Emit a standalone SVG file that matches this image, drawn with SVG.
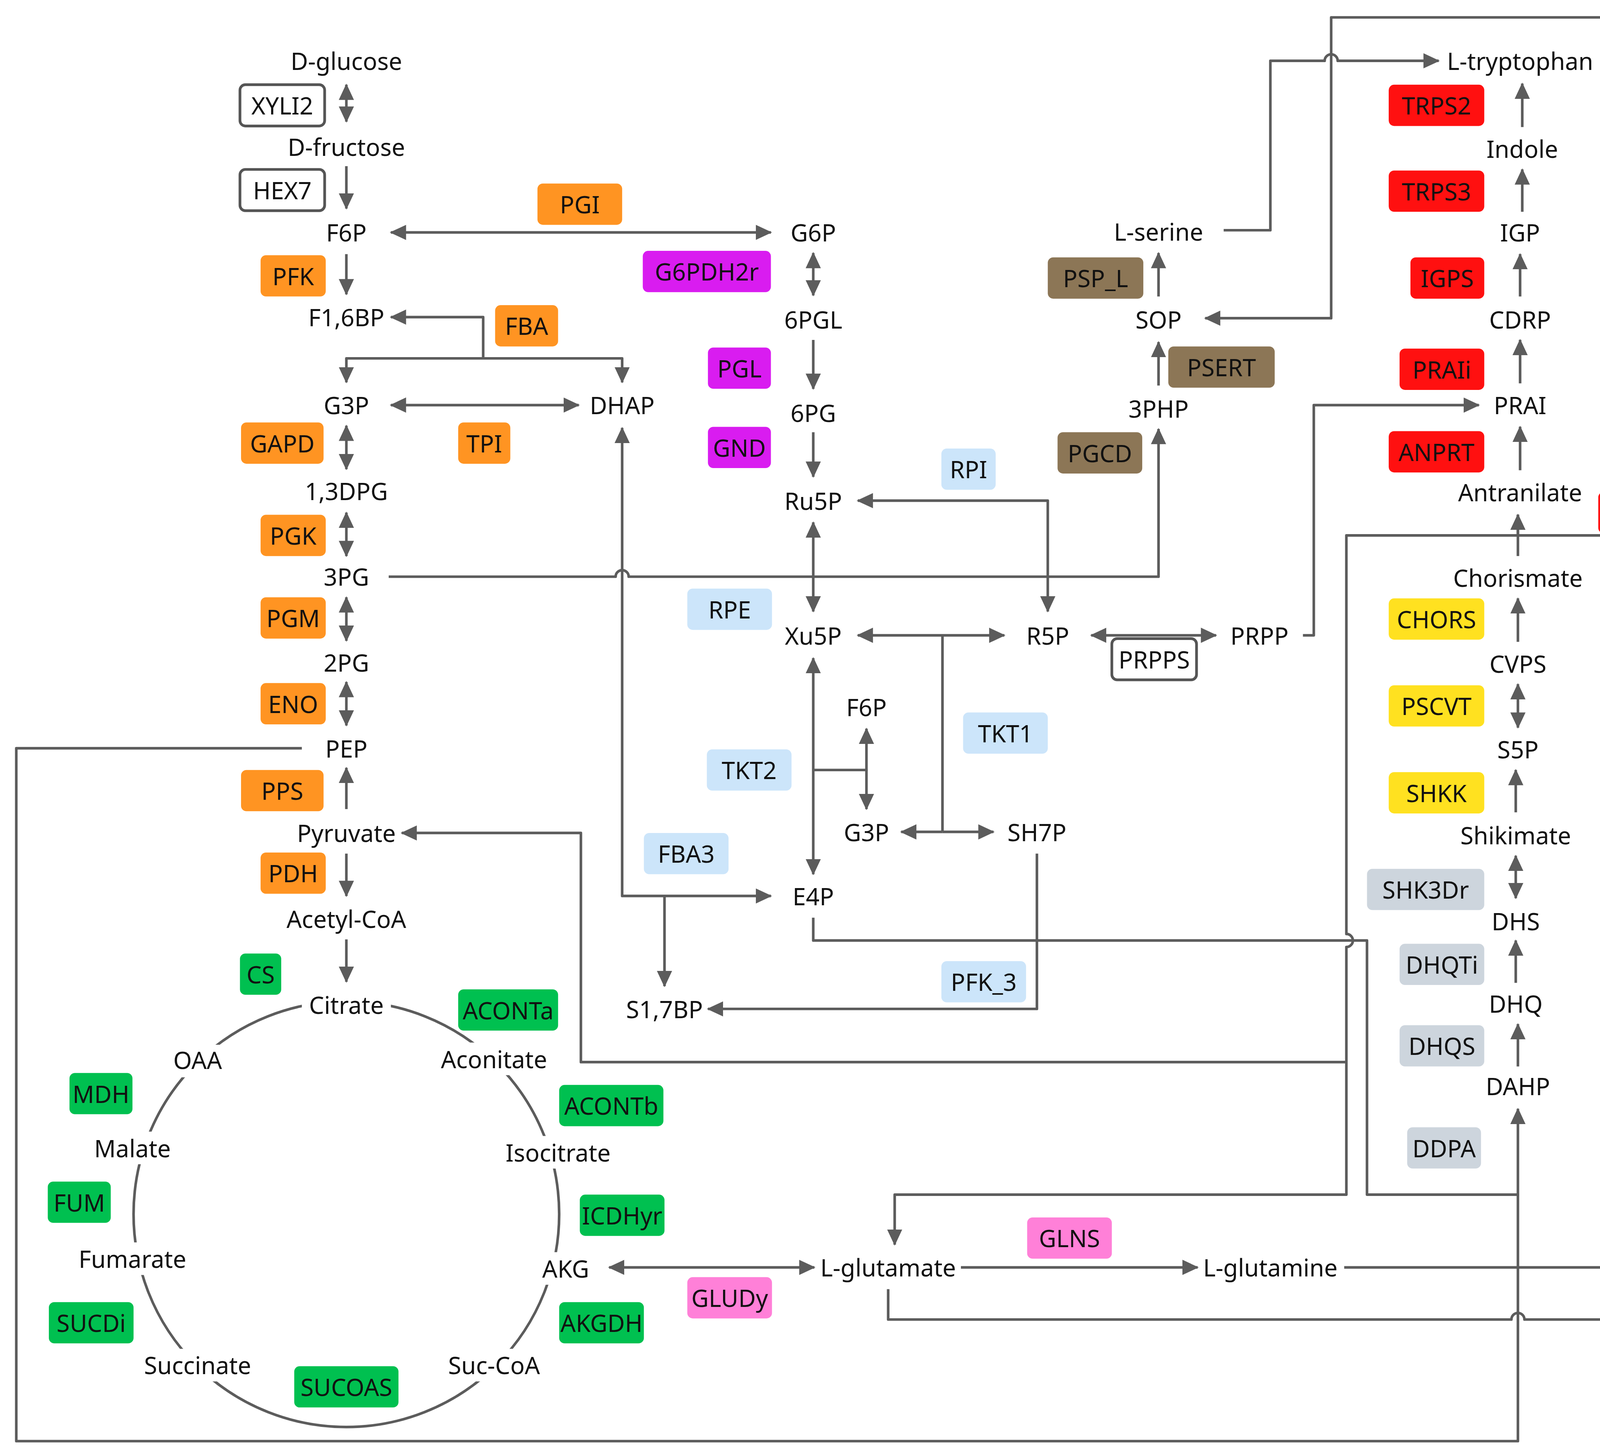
<svg xmlns="http://www.w3.org/2000/svg" width="4350" height="3724" viewBox="0 0 4350 3724">
<style>
.t{font-family:"Noto Sans","DejaVu Sans",sans-serif;font-size:22px;fill:#111;text-anchor:middle;dominant-baseline:central}
.c{fill:none;stroke:#5c5c5c;stroke-width:2.4;stroke-linejoin:round}
.e rect{rx:5}
.o{fill:#FF9422}.m{fill:#D91CF0}.b{fill:#CCE5FA}.w{fill:#fff;stroke:#555;stroke-width:2.5}.br{fill:#8C7656}.r{fill:#FF1010}.y{fill:#FFE120}.g{fill:#CDD5DD}.p{fill:#FF80D8}.gr{fill:#00C050}
</style>
<defs>
<marker id="a" markerWidth="16" markerHeight="16" refX="14" refY="8" orient="auto-start-reverse" markerUnits="userSpaceOnUse"><path d="M0,1L15,8L0,15z" fill="#5c5c5c"/></marker>
</defs>
<rect width="4350" height="3724" fill="#fff"/>
<g transform="scale(2.7796)">
<g id="connectors">
<circle cx="319" cy="1118" r="196" class="c"/>
<path class="c" marker-start="url(#a)" marker-end="url(#a)" d="M319,78V112"/>
<path class="c" marker-end="url(#a)" d="M319,153V192"/>
<path class="c" marker-start="url(#a)" marker-end="url(#a)" d="M360,214H710"/>
<path class="c" marker-end="url(#a)" d="M319,234V271"/>
<path class="c" marker-end="url(#a)" d="M445,330V292H360"/>
<path class="c" marker-end="url(#a)" d="M445,330H319V352"/>
<path class="c" marker-end="url(#a)" d="M445,330H573V352"/>
<path class="c" marker-start="url(#a)" marker-end="url(#a)" d="M360,373H533"/>
<path class="c" marker-start="url(#a)" marker-end="url(#a)" d="M319,392V432"/>
<path class="c" marker-start="url(#a)" marker-end="url(#a)" d="M319,472V512"/>
<path class="c" marker-start="url(#a)" marker-end="url(#a)" d="M319,550V590"/>
<path class="c" marker-start="url(#a)" marker-end="url(#a)" d="M319,628V668"/>
<path class="c" marker-end="url(#a)" d="M319,745V707"/>
<path class="c" marker-end="url(#a)" d="M319,786V825"/>
<path class="c" marker-end="url(#a)" d="M319,865V904"/>
<path class="c" marker-start="url(#a)" marker-end="url(#a)" d="M749,233V272"/>
<path class="c" marker-end="url(#a)" d="M749,313V358"/>
<path class="c" marker-end="url(#a)" d="M749,398V439"/>
<path class="c" marker-start="url(#a)" marker-end="url(#a)" d="M749,481V563"/>
<path class="c" marker-start="url(#a)" marker-end="url(#a)" d="M790,461H965V563"/>
<path class="c" marker-start="url(#a)" marker-end="url(#a)" d="M790,585H925"/>
<path class="c" d="M868,585V766"/>
<path class="c" marker-end="url(#a)" d="M868,766H915"/>
<path class="c" marker-end="url(#a)" d="M868,766H830"/>
<path class="c" marker-start="url(#a)" marker-end="url(#a)" d="M749,606V805"/>
<path class="c" marker-end="url(#a)" d="M749,709H798V671"/>
<path class="c" marker-end="url(#a)" d="M798,709V745"/>
<path class="c" marker-start="url(#a)" marker-end="url(#a)" d="M573,394V825H710"/>
<path class="c" marker-end="url(#a)" d="M612,825V908"/>
<path class="c" marker-end="url(#a)" d="M955,786V929H652"/>
<path class="c" marker-end="url(#a)" d="M358,531H567a6,6 0 0 1 12,0H1067V395"/>
<path class="c" marker-end="url(#a)" d="M1067,355V315"/>
<path class="c" marker-end="url(#a)" d="M1067,273V233"/>
<path class="c" marker-end="url(#a)" d="M1127,212H1170V56H1220a6,6 0 0 1 12,0H1325"/>
<path class="c" marker-end="url(#a)" d="M818,1187V1215H1392a6,6 0 0 1 12,0H1552V16H1226V293H1110"/>
<path class="c" marker-start="url(#a)" marker-end="url(#a)" d="M561,1167H750"/>
<path class="c" marker-end="url(#a)" d="M885,1167H1103"/>
<path class="c" marker-end="url(#a)" d="M1238,1167H1504V493H1398V474"/>
<path class="c" marker-end="url(#a)" d="M1398,512V474"/>
<path class="c" marker-end="url(#a)" d="M1398,493H1240V860a6,6 0 0 1 0,12V978H535V767H370"/>
<path class="c" marker-end="url(#a)" d="M1240,978V1100H824V1146"/>
<path class="c" marker-end="url(#a)" d="M749,845V866H1259V1100H1398V1021"/>
<path class="c" d="M278,689H15V1327H1398V1100"/>
<path class="c" marker-end="url(#a)" d="M1200,585H1210V373H1362"/>
<path class="c" marker-start="url(#a)" marker-end="url(#a)" d="M1005,585H1120"/>
<path class="c" marker-end="url(#a)" d="M1400,433V393"/>
<path class="c" marker-end="url(#a)" d="M1400,353V313"/>
<path class="c" marker-end="url(#a)" d="M1400,273V234"/>
<path class="c" marker-end="url(#a)" d="M1402,195V156"/>
<path class="c" marker-end="url(#a)" d="M1402,117V77"/>
<path class="c" marker-end="url(#a)" d="M1398,591V551"/>
<path class="c" marker-start="url(#a)" marker-end="url(#a)" d="M1398,630V670"/>
<path class="c" marker-end="url(#a)" d="M1396,748V709"/>
<path class="c" marker-start="url(#a)" marker-end="url(#a)" d="M1396,788V827"/>
<path class="c" marker-end="url(#a)" d="M1396,905V866"/>
<path class="c" marker-end="url(#a)" d="M1398,982V943"/>
</g>
<g id="metabolites">
<g fill="#fff"><rect x="278" y="910" width="82" height="30"/><rect x="152" y="962" width="60" height="30"/><rect x="400" y="960" width="112" height="30"/><rect x="80" y="1042" width="84" height="30"/><rect x="460" y="1046" width="108" height="30"/><rect x="68" y="1144" width="108" height="30"/><rect x="495" y="1153" width="52" height="30"/><rect x="125" y="1242" width="114" height="30"/><rect x="408" y="1242" width="96" height="30"/></g>
<text class="t" x="319" y="56">D-glucose</text><text class="t" x="319" y="135">D-fructose</text><text class="t" x="319" y="214">F6P</text><text class="t" x="319" y="292">F1,6BP</text><text class="t" x="319" y="373">G3P</text><text class="t" x="319" y="452">1,3DPG</text><text class="t" x="319" y="531">3PG</text><text class="t" x="319" y="610">2PG</text><text class="t" x="319" y="689">PEP</text><text class="t" x="319" y="767">Pyruvate</text><text class="t" x="319" y="846">Acetyl-CoA</text><text class="t" x="319" y="925">Citrate</text>
<text class="t" x="573" y="373">DHAP</text><text class="t" x="749" y="214">G6P</text><text class="t" x="749" y="294">6PGL</text><text class="t" x="749" y="380">6PG</text><text class="t" x="749" y="461">Ru5P</text><text class="t" x="749" y="585">Xu5P</text><text class="t" x="749" y="825">E4P</text><text class="t" x="798" y="651">F6P</text><text class="t" x="798" y="766">G3P</text><text class="t" x="955" y="766">SH7P</text><text class="t" x="965" y="585">R5P</text><text class="t" x="1160" y="585">PRPP</text><text class="t" x="612" y="929">S1,7BP</text>
<text class="t" x="1067" y="213">L-serine</text><text class="t" x="1067" y="294">SOP</text><text class="t" x="1067" y="376">3PHP</text>
<text class="t" x="1400" y="56">L-tryptophan</text><text class="t" x="1402" y="137">Indole</text><text class="t" x="1400" y="214">IGP</text><text class="t" x="1400" y="294">CDRP</text><text class="t" x="1400" y="373">PRAI</text><text class="t" x="1400" y="453">Antranilate</text><text class="t" x="1398" y="532">Chorismate</text><text class="t" x="1398" y="611">CVPS</text><text class="t" x="1398" y="690">S5P</text><text class="t" x="1396" y="769">Shikimate</text><text class="t" x="1396" y="848">DHS</text><text class="t" x="1396" y="924">DHQ</text><text class="t" x="1398" y="1000">DAHP</text>
<text class="t" x="182" y="976">OAA</text><text class="t" x="455" y="975">Aconitate</text><text class="t" x="122" y="1057">Malate</text><text class="t" x="514" y="1061">Isocitrate</text><text class="t" x="122" y="1159">Fumarate</text><text class="t" x="521" y="1168">AKG</text><text class="t" x="182" y="1257">Succinate</text><text class="t" x="455" y="1257">Suc-CoA</text><text class="t" x="818" y="1167">L-glutamate</text><text class="t" x="1170" y="1167">L-glutamine</text>
</g>
<g id="enzymes" class="e">
<g id="XYLI2"><rect class="w" x="221" y="78" width="78" height="38"/><text class="t" x="260" y="97">XYLI2</text></g>
<g id="HEX7"><rect class="w" x="221" y="156" width="78" height="38"/><text class="t" x="260" y="175">HEX7</text></g>
<g id="PRPPS"><rect class="w" x="1024" y="588" width="78" height="38"/><text class="t" x="1063" y="607">PRPPS</text></g>
<g id="PGI"><rect class="o" x="495" y="169" width="78" height="38"/><text class="t" x="534" y="188">PGI</text></g>
<g id="PFK"><rect class="o" x="240" y="235" width="60" height="38"/><text class="t" x="270" y="254">PFK</text></g>
<g id="FBA"><rect class="o" x="456" y="281" width="58" height="38"/><text class="t" x="485" y="300">FBA</text></g>
<g id="GAPD"><rect class="o" x="222" y="389" width="76" height="38"/><text class="t" x="260" y="408">GAPD</text></g>
<g id="TPI"><rect class="o" x="422" y="389" width="48" height="38"/><text class="t" x="446" y="408">TPI</text></g>
<g id="PGK"><rect class="o" x="240" y="474" width="60" height="38"/><text class="t" x="270" y="493">PGK</text></g>
<g id="PGM"><rect class="o" x="240" y="550" width="60" height="38"/><text class="t" x="270" y="569">PGM</text></g>
<g id="ENO"><rect class="o" x="240" y="629" width="60" height="38"/><text class="t" x="270" y="648">ENO</text></g>
<g id="PPS"><rect class="o" x="222" y="709" width="76" height="38"/><text class="t" x="260" y="728">PPS</text></g>
<g id="PDH"><rect class="o" x="240" y="785" width="60" height="38"/><text class="t" x="270" y="804">PDH</text></g>
<g id="G6PDH2r"><rect class="m" x="592" y="231" width="118" height="38"/><text class="t" x="651" y="250">G6PDH2r</text></g>
<g id="PGL"><rect class="m" x="652" y="320" width="58" height="38"/><text class="t" x="681" y="339">PGL</text></g>
<g id="GND"><rect class="m" x="652" y="393" width="58" height="38"/><text class="t" x="681" y="412">GND</text></g>
<g id="RPI"><rect class="b" x="867" y="413" width="50" height="38"/><text class="t" x="892" y="432">RPI</text></g>
<g id="RPE"><rect class="b" x="633" y="542" width="78" height="38"/><text class="t" x="672" y="561">RPE</text></g>
<g id="TKT2"><rect class="b" x="651" y="690" width="78" height="38"/><text class="t" x="690" y="709">TKT2</text></g>
<g id="TKT1"><rect class="b" x="887" y="656" width="78" height="38"/><text class="t" x="926" y="675">TKT1</text></g>
<g id="FBA3"><rect class="b" x="593" y="767" width="78" height="38"/><text class="t" x="632" y="786">FBA3</text></g>
<g id="PFK_3"><rect class="b" x="867" y="885" width="78" height="38"/><text class="t" x="906" y="904">PFK_3</text></g>
<g id="PSP_L"><rect class="br" x="965" y="237" width="88" height="38"/><text class="t" x="1009" y="256">PSP_L</text></g>
<g id="PSERT"><rect class="br" x="1076" y="319" width="98" height="38"/><text class="t" x="1125" y="338">PSERT</text></g>
<g id="PGCD"><rect class="br" x="974" y="398" width="78" height="38"/><text class="t" x="1013" y="417">PGCD</text></g>
<g id="TRPS2"><rect class="r" x="1279" y="78" width="88" height="38"/><text class="t" x="1323" y="97">TRPS2</text></g>
<g id="TRPS3"><rect class="r" x="1279" y="157" width="88" height="38"/><text class="t" x="1323" y="176">TRPS3</text></g>
<g id="IGPS"><rect class="r" x="1299" y="237" width="68" height="38"/><text class="t" x="1333" y="256">IGPS</text></g>
<g id="PRAIi"><rect class="r" x="1289" y="321" width="78" height="38"/><text class="t" x="1328" y="340">PRAIi</text></g>
<g id="ANPRT"><rect class="r" x="1279" y="397" width="88" height="38"/><text class="t" x="1323" y="416">ANPRT</text></g>
<g id="ANS"><rect class="r" x="1472" y="453" width="72" height="38"/><text class="t" x="1508" y="472">ANS</text></g>
<g id="CHORS"><rect class="y" x="1279" y="551" width="88" height="38"/><text class="t" x="1323" y="570">CHORS</text></g>
<g id="PSCVT"><rect class="y" x="1279" y="631" width="88" height="38"/><text class="t" x="1323" y="650">PSCVT</text></g>
<g id="SHKK"><rect class="y" x="1279" y="711" width="88" height="38"/><text class="t" x="1323" y="730">SHKK</text></g>
<g id="SHK3Dr"><rect class="g" x="1259" y="800" width="108" height="38"/><text class="t" x="1313" y="819">SHK3Dr</text></g>
<g id="DHQTi"><rect class="g" x="1289" y="869" width="78" height="38"/><text class="t" x="1328" y="888">DHQTi</text></g>
<g id="DHQS"><rect class="g" x="1289" y="944" width="78" height="38"/><text class="t" x="1328" y="963">DHQS</text></g>
<g id="DDPA"><rect class="g" x="1296" y="1038" width="68" height="38"/><text class="t" x="1330" y="1057">DDPA</text></g>
<g id="GLNS"><rect class="p" x="946" y="1121" width="78" height="38"/><text class="t" x="985" y="1140">GLNS</text></g>
<g id="GLUDy"><rect class="p" x="633" y="1176" width="78" height="38"/><text class="t" x="672" y="1195">GLUDy</text></g>
<g id="CS"><rect class="gr" x="221" y="878" width="38" height="38"/><text class="t" x="240" y="897">CS</text></g>
<g id="ACONTa"><rect class="gr" x="422" y="911" width="92" height="38"/><text class="t" x="468" y="930">ACONTa</text></g>
<g id="ACONTb"><rect class="gr" x="515" y="999" width="96" height="38"/><text class="t" x="563" y="1018">ACONTb</text></g>
<g id="MDH"><rect class="gr" x="64" y="988" width="58" height="38"/><text class="t" x="93" y="1007">MDH</text></g>
<g id="ICDHyr"><rect class="gr" x="534" y="1100" width="78" height="38"/><text class="t" x="573" y="1119">ICDHyr</text></g>
<g id="FUM"><rect class="gr" x="44" y="1088" width="58" height="38"/><text class="t" x="73" y="1107">FUM</text></g>
<g id="SUCDi"><rect class="gr" x="45" y="1199" width="78" height="38"/><text class="t" x="84" y="1218">SUCDi</text></g>
<g id="AKGDH"><rect class="gr" x="515" y="1199" width="78" height="38"/><text class="t" x="554" y="1218">AKGDH</text></g>
<g id="SUCOAS"><rect class="gr" x="271" y="1258" width="96" height="38"/><text class="t" x="319" y="1277">SUCOAS</text></g>
</g>
</g>
</svg>
